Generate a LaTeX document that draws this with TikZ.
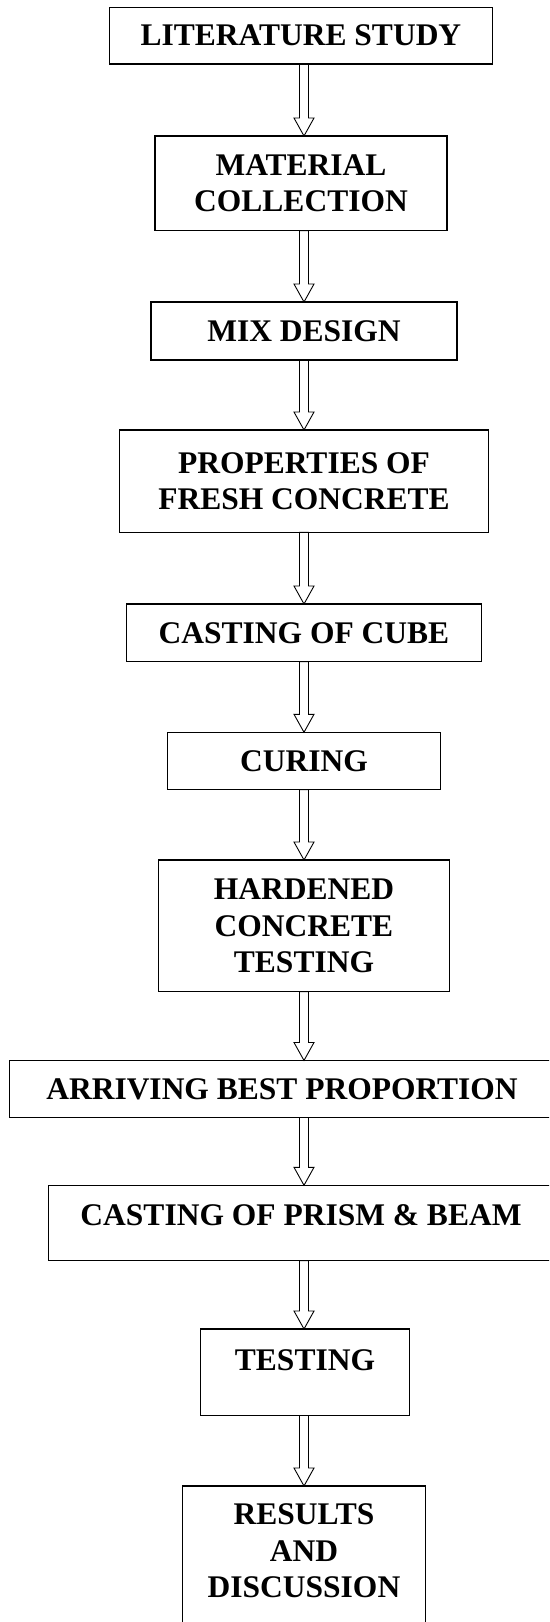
\documentclass[tikz,border=0pt]{standalone}
\usepackage{fontspec}
\setmainfont{Liberation Serif}
\usetikzlibrary{positioning}

\begin{document}
\begin{tikzpicture}[
    x=1pt, y=1pt,
    stepbox/.style={draw, rectangle, line width=1.2pt, inner sep=0pt,
                    outer sep=0pt, text centered,
                    font=\fontsize{31.5}{36.5}\selectfont\bfseries},
    blkarrow/.style={draw, line width=0.9pt, to path={
        ([xshift=-4.5pt]\tikztostart)
        -- ([xshift=-4.5pt,yshift=18pt]\tikztotarget)
        -- ([xshift=-10pt,yshift=18pt]\tikztotarget)
        -- (\tikztotarget)
        -- ([xshift=10pt,yshift=18pt]\tikztotarget)
        -- ([xshift=4.5pt,yshift=18pt]\tikztotarget)
        -- ([xshift=4.5pt]\tikztostart) -- cycle}}
  ]
    \useasboundingbox (0,0) rectangle (549,-1622);
    \clip (0,0) rectangle (549,-1622);
    \coordinate (axis) at (304,0);

    % Blocks
    \node[stepbox, minimum width=383.4pt, minimum height=56.7pt] (lit) at (301,-35.65) {LITERATURE STUDY};
    \node[stepbox, align=center, minimum width=292pt, minimum height=94.7pt, below=72pt of lit] (mat) {MATERIAL\\COLLECTION};
    \node[stepbox, minimum width=306pt, minimum height=58pt, below=71.3pt of mat, xshift=3pt] (mix) {MIX DESIGN};
    \node[stepbox, align=center, minimum width=368.4pt, minimum height=102.3pt, below=70pt of mix] (prop) {PROPERTIES OF\\FRESH CONCRETE};
    \node[stepbox, minimum width=355pt, minimum height=57.7pt, below=71.7pt of prop] (cube) {CASTING OF CUBE};
    \node[stepbox, minimum width=273.3pt, minimum height=57.4pt, below=70.6pt of cube] (cure) {CURING};
    \node[stepbox, align=center, minimum width=290.6pt, minimum height=131.7pt, below=70.3pt of cure] (hard) {HARDENED\\CONCRETE\\TESTING};
    \node[stepbox, minimum width=545pt, minimum height=57pt, below=68.8pt of hard, xshift=-22pt] (best) {ARRIVING BEST PROPORTION};
    \node[stepbox, minimum width=505.4pt, text height=40.4pt, text depth=35pt, below=67.8pt of best, xshift=19pt] (prism) {CASTING OF PRISM \& BEAM};
    \node[stepbox, minimum width=209.3pt, text height=41.7pt, text depth=44.8pt, below=68.3pt of prism, xshift=4pt] (test) {TESTING};
    \node[stepbox, align=center, minimum width=243.4pt, inner ysep=18pt, below=70.5pt of test, xshift=-1pt] (res) {RESULTS\\AND\\DISCUSSION\\~};

    % Hollow arrows
    \draw[blkarrow] (lit.south -| axis)   to (mat.north -| axis);
    \draw[blkarrow] (mat.south -| axis)   to (mix.north -| axis);
    \draw[blkarrow] (mix.south -| axis)   to (prop.north -| axis);
    \draw[blkarrow] (prop.south -| axis)  to (cube.north -| axis);
    \draw[blkarrow] (cube.south -| axis)  to (cure.north -| axis);
    \draw[blkarrow] (cure.south -| axis)  to (hard.north -| axis);
    \draw[blkarrow] (hard.south -| axis)  to (best.north -| axis);
    \draw[blkarrow] (best.south -| axis)  to (prism.north -| axis);
    \draw[blkarrow] (prism.south -| axis) to (test.north -| axis);
    \draw[blkarrow] (test.south -| axis)  to (res.north -| axis);
\end{tikzpicture}
\end{document}
